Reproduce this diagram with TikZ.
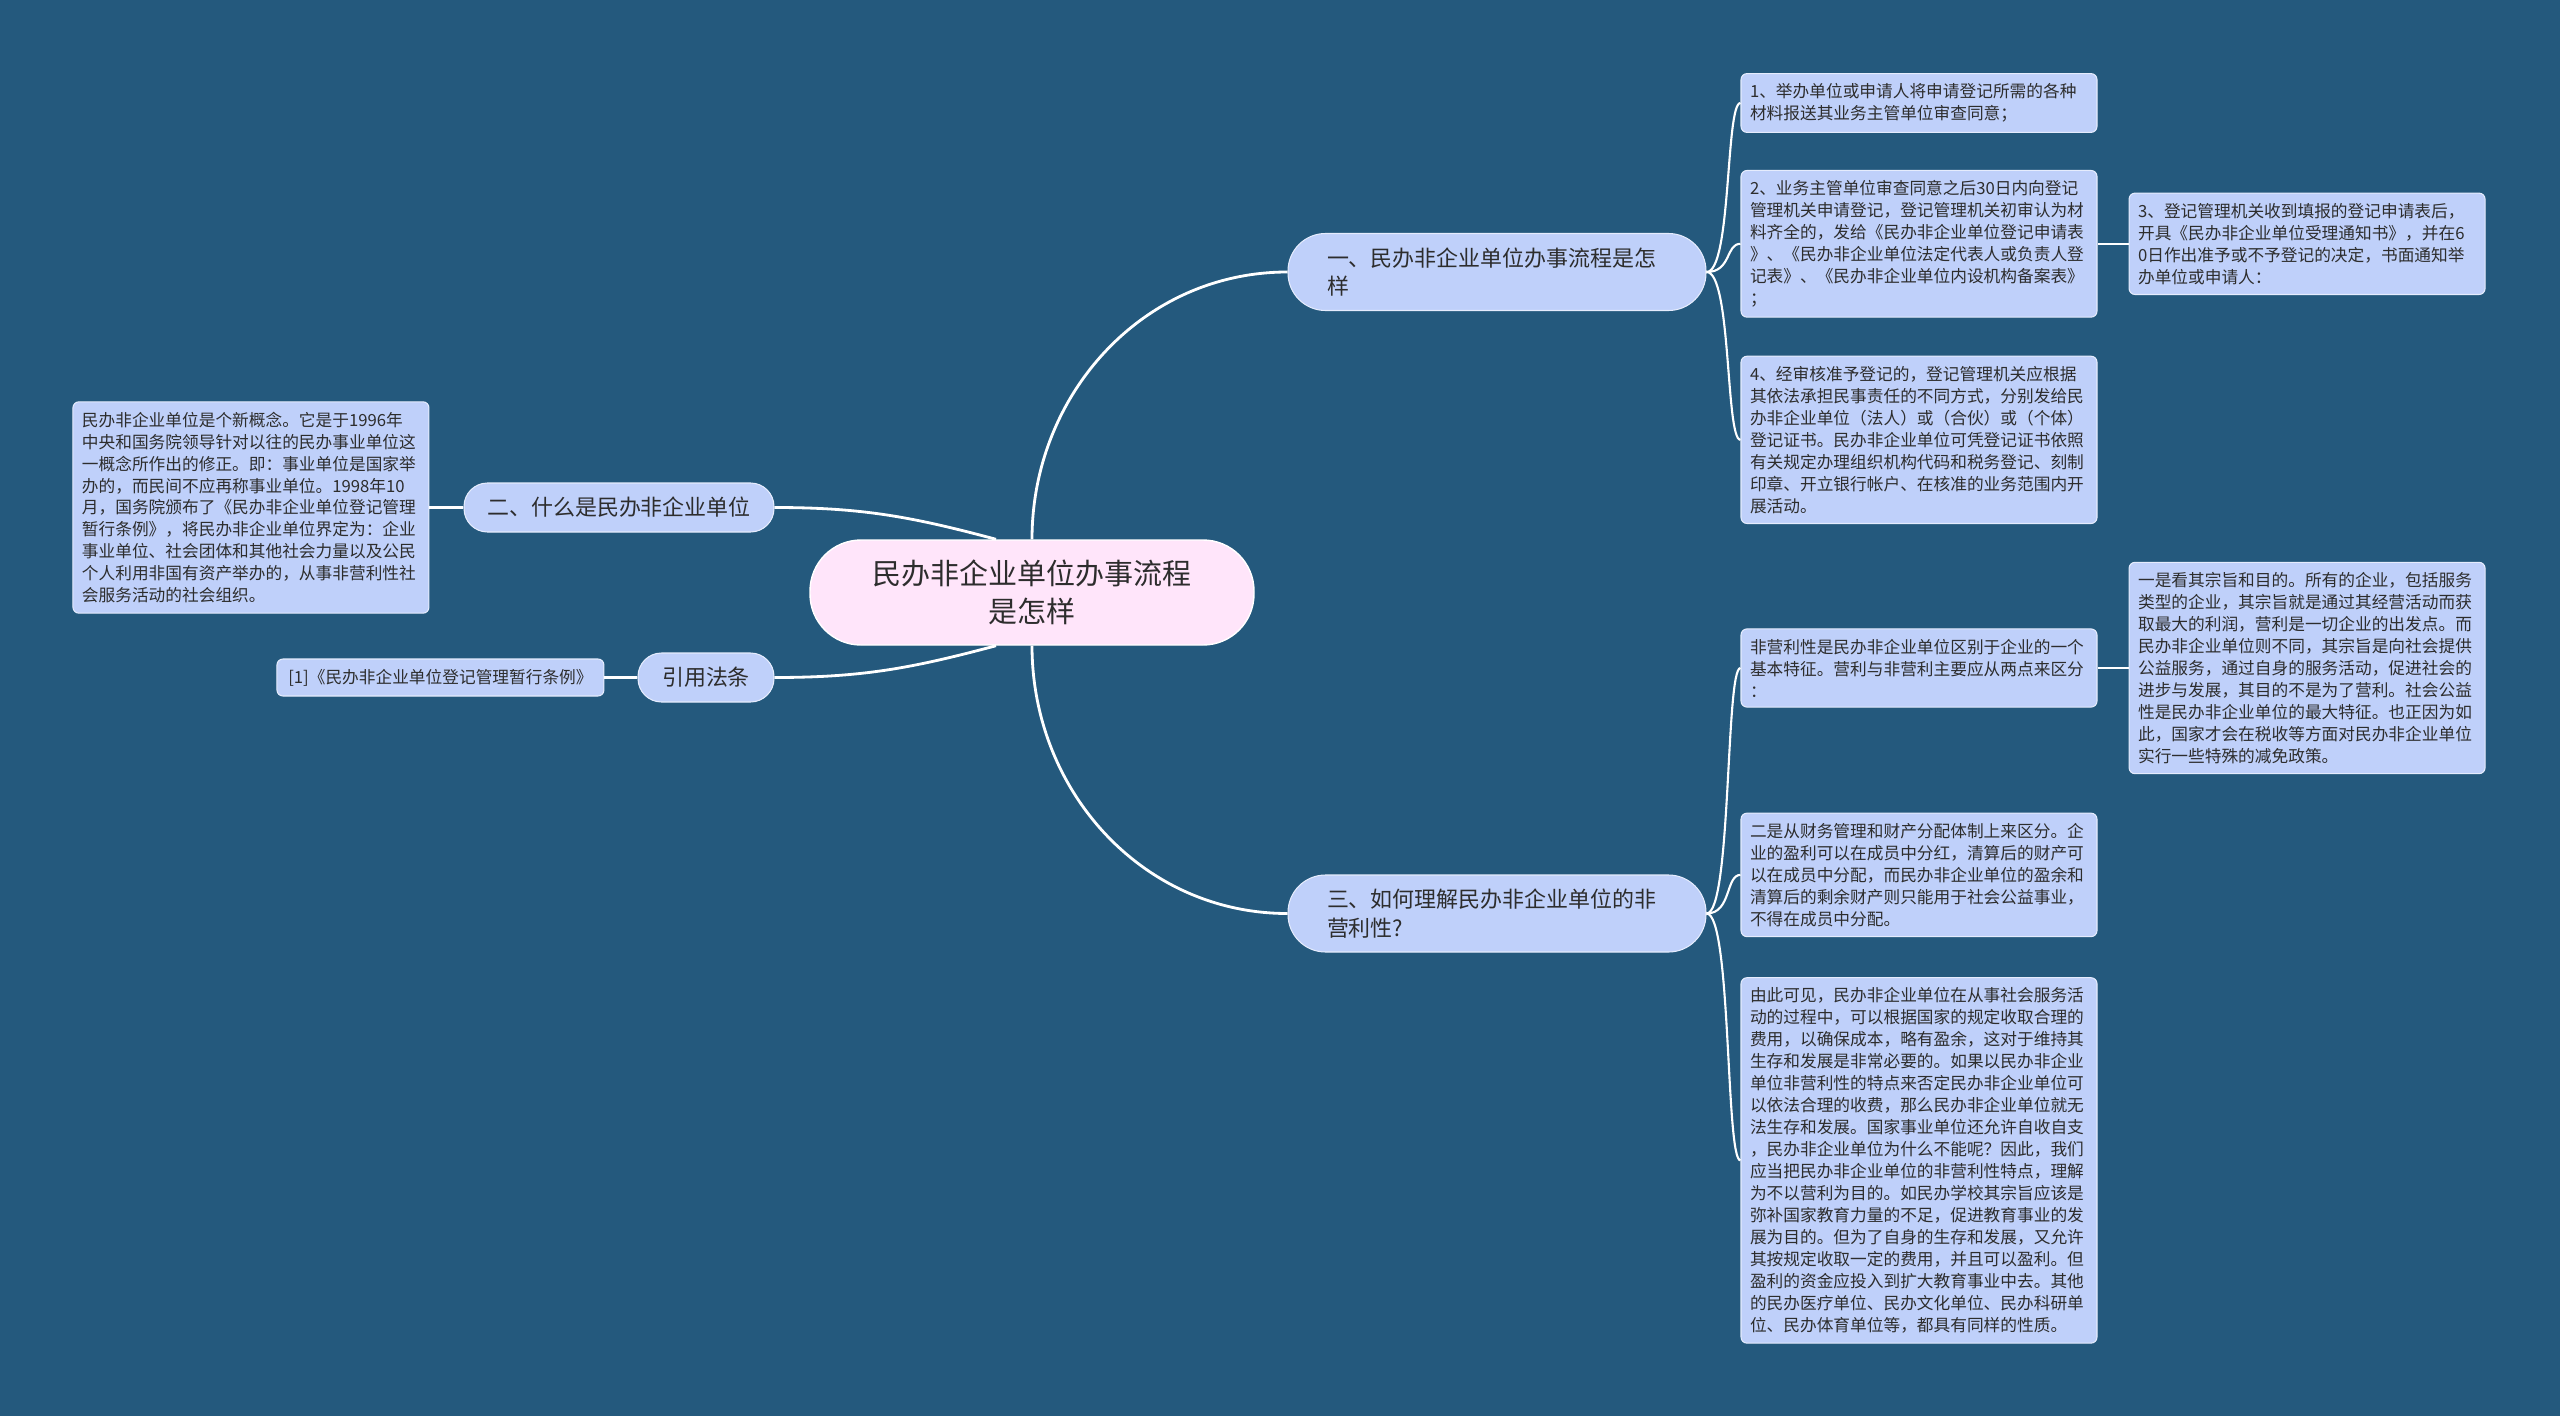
\documentclass[tikz,border=0pt]{standalone}
\usepackage{fontspec}
\newfontfamily\cjk{Noto Sans CJK SC}
\usepackage{xcolor}
\usepackage{tikz}
\usetikzlibrary{calc}
\usetikzlibrary{positioning}

\definecolor{mapbg}{RGB}{36,89,125}
\definecolor{leafblue}{RGB}{191,208,250}
\definecolor{rootpink}{RGB}{255,229,250}
\definecolor{inkgray}{RGB}{45,45,45}

\begin{document}
\begin{tikzpicture}
		\tikzstyle{topic} = [draw=white, line width=0.8pt, fill=rootpink, text=inkgray, font=\cjk\fontsize{16.5}{21.6}\selectfont, align=center, minimum width=8.88cm, minimum height=2.1cm, rounded corners=1.02cm]
		\tikzstyle{branch} = [draw=white!60!leafblue, line width=0.6pt, fill=leafblue, text=inkgray, font=\cjk\fontsize{12.5}{16.4}\selectfont, inner xsep=0.78cm, text width=6.8cm, align=left, minimum height=1.54cm, rounded corners=0.75cm]
		\tikzstyle{tag} = [draw=white!60!leafblue, line width=0.6pt, fill=leafblue, text=inkgray, font=\cjk\fontsize{12.5}{16.4}\selectfont, minimum height=0.98cm, rounded corners=0.47cm]
		\tikzstyle{leaf} = [draw=white!60!leafblue, line width=0.6pt, fill=leafblue, text=inkgray, font=\cjk\fontsize{9.5}{12.5}\selectfont, inner xsep=0.18cm, inner ysep=0.2cm, text width=6.76cm, align=left, rounded corners=0.12cm]
		\tikzstyle{link} = [draw=white, line width=1.6pt]
		\tikzstyle{twig} = [draw=white, line width=1.2pt]

		\fill[mapbg] (0,0) rectangle (51.2,-28.32);
		\useasboundingbox (0,0) rectangle (51.2,-28.32);

		\node[topic] (root) at (20.64,-11.85) {民办非企业单位办事流程\\是怎样};
		\node[branch] (flow) at (29.94,-5.44) {一、民办非企业单位办事流程是怎\\样};
		\node[branch] (nonprofit) at (29.94,-18.27) {三、如何理解民办非企业单位的非\\营利性?};
		\node[tag, minimum width=6.2cm] (what) at (12.38,-10.15) {二、什么是民办非企业单位};
		\node[tag, minimum width=2.72cm] (law) at (14.12,-13.55) {引用法条};

		\node[leaf] (stepA) at (38.38,-2.06) {1、举办单位或申请人将申请登记所需的各种\\材料报送其业务主管单位审查同意；};
		\node[leaf, below=0.74cm of stepA] (stepB) {2、业务主管单位审查同意之后30日内向登记\\管理机关申请登记，登记管理机关初审认为材\\料齐全的，发给《民办非企业单位登记申请表\\》、《民办非企业单位法定代表人或负责人登\\记表》、《民办非企业单位内设机构备案表》\\；};
		\node[leaf, right=0.62cm of stepB] (stepC) {3、登记管理机关收到填报的登记申请表后，\\开具《民办非企业单位受理通知书》，并在6\\0日作出准予或不予登记的决定，书面通知举\\办单位或申请人：};
		\node[leaf, below=0.76cm of stepB] (stepD) {4、经审核准予登记的，登记管理机关应根据\\其依法承担民事责任的不同方式，分别发给民\\办非企业单位（法人）或（合伙）或（个体）\\登记证书。民办非企业单位可凭登记证书依照\\有关规定办理组织机构代码和税务登记、刻制\\印章、开立银行帐户、在核准的业务范围内开\\展活动。};

		\node[leaf] (trait) at (38.38,-13.36) {非营利性是民办非企业单位区别于企业的一个\\基本特征。营利与非营利主要应从两点来区分\\：};
		\node[leaf, right=0.62cm of trait] (aim) {一是看其宗旨和目的。所有的企业，包括服务\\类型的企业，其宗旨就是通过其经营活动而获\\取最大的利润，营利是一切企业的出发点。而\\民办非企业单位则不同，其宗旨是向社会提供\\公益服务，通过自身的服务活动，促进社会的\\进步与发展，其目的不是为了营利。社会公益\\性是民办非企业单位的最大特征。也正因为如\\此，国家才会在税收等方面对民办非企业单位\\实行一些特殊的减免政策。};
		\node[leaf, below=2.1cm of trait] (finance) {二是从财务管理和财产分配体制上来区分。企\\业的盈利可以在成员中分红，清算后的财产可\\以在成员中分配，而民办非企业单位的盈余和\\清算后的剩余财产则只能用于社会公益事业，\\不得在成员中分配。};
		\node[leaf, below=0.8cm of finance] (summary) {由此可见，民办非企业单位在从事社会服务活\\动的过程中，可以根据国家的规定收取合理的\\费用，以确保成本，略有盈余，这对于维持其\\生存和发展是非常必要的。如果以民办非企业\\单位非营利性的特点来否定民办非企业单位可\\以依法合理的收费，那么民办非企业单位就无\\法生存和发展。国家事业单位还允许自收自支\\，民办非企业单位为什么不能呢？因此，我们\\应当把民办非企业单位的非营利性特点，理解\\为不以营利为目的。如民办学校其宗旨应该是\\弥补国家教育力量的不足，促进教育事业的发\\展为目的。但为了自身的生存和发展，又允许\\其按规定收取一定的费用，并且可以盈利。但\\盈利的资金应投入到扩大教育事业中去。其他\\的民办医疗单位、民办文化单位、民办科研单\\位、民办体育单位等，都具有同样的性质。};

		\node[leaf, left=0.68cm of what] (define) {民办非企业单位是个新概念。它是于1996年\\中央和国务院领导针对以往的民办事业单位这\\一概念所作出的修正。即：事业单位是国家举\\办的，而民间不应再称事业单位。1998年10\\月，国务院颁布了《民办非企业单位登记管理\\暂行条例》，将民办非企业单位界定为：企业\\事业单位、社会团体和其他社会力量以及公民\\个人利用非国有资产举办的，从事非营利性社\\会服务活动的社会组织。};
		\node[leaf, text width=, align=left, minimum width=6.54cm, left=0.66cm of law] (cite) {[1]《民办非企业单位登记管理暂行条例》};

		\draw[link] (root.north) to[out=90,in=180] (flow.west);
		\draw[link] (root.south) to[out=-90,in=180] (nonprofit.west);
		\draw[link] (what.east) to[out=0,in=165] ([xshift=-0.72cm]root.north);
		\draw[link] (law.east) to[out=0,in=195] ([xshift=-0.72cm]root.south);

		\draw[twig] (flow.east) .. controls +(0.5,0) and +(-0.3,0) .. (stepA.west);
		\draw[twig] (flow.east) .. controls +(0.5,0) and +(-0.3,0) .. (stepB.west);
		\draw[twig] (flow.east) .. controls +(0.5,0) and +(-0.3,0) .. (stepD.west);
		\draw[twig] (stepB.east) -- (stepC.west);
		\draw[twig] (nonprofit.east) .. controls +(0.5,0) and +(-0.3,0) .. (trait.west);
		\draw[twig] (nonprofit.east) .. controls +(0.5,0) and +(-0.3,0) .. (finance.west);
		\draw[twig] (nonprofit.east) .. controls +(0.5,0) and +(-0.3,0) .. (summary.west);
		\draw[twig] (trait.east) -- (aim.west);
		\draw[twig] (define.east) -- (what.west);
		\draw[twig] (cite.east) -- (law.west);

	\end{tikzpicture}
\end{document}
